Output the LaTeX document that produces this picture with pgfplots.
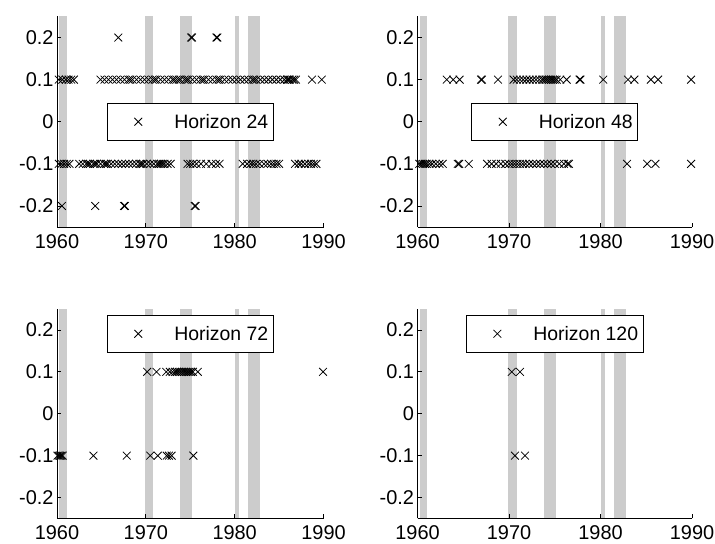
\documentclass[border=0pt]{standalone}
\usepackage{fontspec}
\setmainfont{Liberation Sans}
\usepackage{pgfplots}
\pgfplotsset{compat=1.18}
\definecolor{bandgray}{gray}{0.8}

\newcommand{\recessionbands}{%
\addplot[fill=bandgray, draw=none, forget plot] coordinates {(1960.25,-0.25) (1960.25,0.25) (1961.08,0.25) (1961.08,-0.25)} -- cycle;
\addplot[fill=bandgray, draw=none, forget plot] coordinates {(1969.92,-0.25) (1969.92,0.25) (1970.83,0.25) (1970.83,-0.25)} -- cycle;
\addplot[fill=bandgray, draw=none, forget plot] coordinates {(1973.83,-0.25) (1973.83,0.25) (1975.17,0.25) (1975.17,-0.25)} -- cycle;
\addplot[fill=bandgray, draw=none, forget plot] coordinates {(1980.0,-0.25) (1980.0,0.25) (1980.5,0.25) (1980.5,-0.25)} -- cycle;
\addplot[fill=bandgray, draw=none, forget plot] coordinates {(1981.5,-0.25) (1981.5,0.25) (1982.83,0.25) (1982.83,-0.25)} -- cycle;
}

\pgfplotsset{
  hz/.style={
    scale only axis,
    xmin=1960, xmax=1990, ymin=-0.25, ymax=0.25,
    axis x line*=bottom, axis y line*=left,
    x axis line style={-}, y axis line style={-},
    axis line style={line width=0.7bp, black},
    axis on top,
    xtick={1960,1970,1980,1990},
    ytick={-0.2,-0.1,0,0.1,0.2},
    scaled ticks=false,
    tick align=inside,
    major tick length=4bp,
    tick style={line width=0.7bp, black},
    ticklabel style={font=\fontsize{20}{23}\selectfont},
    xticklabel style={yshift=-4bp},
    /pgf/number format/assume math mode=true,
    /pgf/number format/1000 sep={},
    legend style={
      draw=black, fill=white, line width=0.8bp,
      font=\fontsize{19.5}{23}\selectfont,
      inner xsep=0pt, inner ysep=7.5bp,
      nodes={inner xsep=5bp, inner ysep=3bp},
    },
    legend image code/.code={\path[draw=none, fill=none] (0bp,0bp) -- (62bp,0bp); \draw[##1] plot coordinates {(31bp,0bp)};},
  },
  mk/.style={only marks, mark=x, mark size=5.5bp, black, mark options={line width=0.8bp}},
}

\begin{document}
\begin{tikzpicture}[x=1bp,y=1bp]
\useasboundingbox (0,0) rectangle (715,544);

% ---------------- Horizon 24 ----------------
\begin{axis}[hz, at={(57bp,317bp)}, anchor=south west, width=266.5bp, height=210.5bp,
  legend style={at={(0.5,0.5)}, anchor=center}]
\recessionbands
\addplot[mk] coordinates {
(1960.2,0.1) (1960.6,0.1) (1961.0,0.1) (1961.3,0.1) (1961.6,0.1) (1961.9,0.1)
(1964.9,0.1) (1965.35,0.1) (1965.8,0.1) (1966.25,0.1) (1966.7,0.1) (1967.15,0.1) (1967.6,0.1) (1968.05,0.1) (1968.25,0.1) (1968.5,0.1)
(1968.95,0.1) (1969.4,0.1) (1969.85,0.1) (1970.3,0.1) (1970.75,0.1) (1971.0,0.1) (1971.2,0.1) (1971.65,0.1) (1972.1,0.1) (1972.55,0.1)
(1973.0,0.1) (1973.2,0.1) (1973.45,0.1) (1973.7,0.1) (1973.9,0.1) (1974.35,0.1) (1974.6,0.1) (1974.8,0.1) (1975.25,0.1) (1975.7,0.1)
(1976.15,0.1) (1976.4,0.1) (1976.6,0.1) (1977.05,0.1) (1977.5,0.1) (1977.95,0.1) (1978.2,0.1) (1978.4,0.1) (1978.85,0.1) (1979.3,0.1)
(1979.75,0.1) (1980.2,0.1) (1980.65,0.1) (1981.1,0.1) (1981.55,0.1) (1982.0,0.1) (1982.2,0.1) (1982.45,0.1) (1982.9,0.1) (1983.35,0.1)
(1983.8,0.1) (1984.25,0.1) (1984.7,0.1) (1985.15,0.1) (1985.6,0.1) (1985.9,0.1) (1986.05,0.1) (1986.2,0.1) (1986.5,0.1) (1986.7,0.1)
(1986.9,0.1) (1988.7,0.1) (1989.8,0.1)
(1966.9,0.2) (1975.1,0.2) (1975.2,0.2) (1977.95,0.2) (1978.05,0.2)
(1960.2,-0.1) (1960.5,-0.1) (1960.8,-0.1) (1961.1,-0.1) (1961.4,-0.1) (1962.5,-0.1)
(1962.9,-0.1) (1963.3,-0.1) (1963.5,-0.1) (1963.7,-0.1) (1964.1,-0.1) (1964.3,-0.1) (1964.5,-0.1) (1964.9,-0.1) (1965.3,-0.1) (1965.5,-0.1)
(1965.7,-0.1) (1966.1,-0.1) (1966.5,-0.1) (1966.9,-0.1) (1967.3,-0.1) (1967.7,-0.1) (1968.1,-0.1) (1968.5,-0.1) (1968.9,-0.1) (1969.3,-0.1)
(1969.5,-0.1) (1969.7,-0.1) (1970.1,-0.1) (1970.5,-0.1) (1970.9,-0.1) (1971.3,-0.1) (1971.5,-0.1) (1971.7,-0.1) (1971.9,-0.1) (1972.1,-0.1)
(1972.45,-0.1) (1972.8,-0.1)
(1974.7,-0.1) (1975.0,-0.1) (1975.3,-0.1) (1975.7,-0.1) (1976.2,-0.1) (1976.8,-0.1) (1977.4,-0.1) (1977.9,-0.1) (1978.3,-0.1)
(1980.9,-0.1) (1981.4,-0.1) (1981.8,-0.1) (1982.1,-0.1) (1982.4,-0.1) (1982.8,-0.1) (1983.3,-0.1) (1983.7,-0.1) (1984.1,-0.1) (1984.4,-0.1) (1984.7,-0.1) (1985.0,-0.1)
(1986.8,-0.1) (1987.2,-0.1) (1987.5,-0.1) (1987.9,-0.1) (1988.3,-0.1) (1988.6,-0.1) (1988.9,-0.1) (1989.2,-0.1)
(1960.55,-0.2) (1964.3,-0.2) (1967.55,-0.2) (1967.65,-0.2) (1975.5,-0.2) (1975.6,-0.2)
};
\addlegendentry{Horizon 24}
\end{axis}

% ---------------- Horizon 48 ----------------
\begin{axis}[hz, at={(417.5bp,317bp)}, anchor=south west, width=274.5bp, height=210.5bp,
  legend style={at={(0.5,0.5)}, anchor=center}]
\recessionbands
\addplot[mk] coordinates {
(1963.2,0.1) (1963.9,0.1) (1964.6,0.1) (1966.95,0.1) (1967.05,0.1) (1968.8,0.1)
(1970.5,0.1) (1970.85,0.1) (1971.2,0.1) (1971.55,0.1) (1971.9,0.1) (1972.25,0.1) (1972.6,0.1) (1972.95,0.1) (1973.3,0.1) (1973.6,0.1)
(1973.8,0.1) (1974.0,0.1) (1974.2,0.1) (1974.4,0.1) (1974.6,0.1) (1974.8,0.1) (1975.0,0.1) (1975.2,0.1) (1975.6,0.1) (1976.3,0.1)
(1977.7,0.1) (1977.8,0.1) (1980.3,0.1) (1983.0,0.1) (1983.7,0.1) (1985.5,0.1) (1986.3,0.1) (1989.9,0.1)
(1960.2,-0.1) (1960.4,-0.1) (1960.6,-0.1) (1960.8,-0.1) (1961.0,-0.1) (1961.3,-0.1) (1961.6,-0.1) (1962.0,-0.1) (1962.4,-0.1) (1962.75,-0.1)
(1964.4,-0.1) (1964.55,-0.1) (1965.6,-0.1)
(1967.6,-0.1) (1968.1,-0.1) (1968.6,-0.1) (1969.1,-0.1) (1969.6,-0.1) (1970.0,-0.1) (1970.3,-0.1) (1970.6,-0.1) (1970.9,-0.1) (1971.2,-0.1)
(1971.5,-0.1) (1971.8,-0.1) (1972.2,-0.1) (1972.6,-0.1) (1973.0,-0.1) (1973.4,-0.1) (1973.8,-0.1) (1974.2,-0.1) (1974.6,-0.1) (1975.0,-0.1)
(1975.5,-0.1) (1976.0,-0.1) (1976.4,-0.1) (1976.55,-0.1)
(1982.9,-0.1) (1985.1,-0.1) (1986.0,-0.1) (1989.9,-0.1)
};
\addlegendentry{Horizon 48}
\end{axis}

% ---------------- Horizon 72 ----------------
\begin{axis}[hz, at={(57bp,25.5bp)}, anchor=south west, width=266.5bp, height=209.5bp,
  legend style={at={(0.5,0.971)}, anchor=north}]
\recessionbands
\addplot[mk] coordinates {
(1970.15,0.1) (1971.2,0.1) (1972.3,0.1) (1972.7,0.1) (1973.0,0.1) (1973.3,0.1) (1973.5,0.1) (1973.7,0.1) (1973.9,0.1) (1974.1,0.1)
(1974.3,0.1) (1974.5,0.1) (1974.7,0.1) (1974.9,0.1) (1975.1,0.1) (1975.3,0.1) (1975.85,0.1) (1989.95,0.1)
(1960.05,-0.1) (1960.2,-0.1) (1960.35,-0.1) (1960.5,-0.1) (1960.65,-0.1)
(1964.1,-0.1) (1967.85,-0.1) (1970.5,-0.1) (1971.35,-0.1) (1972.35,-0.1) (1972.6,-0.1) (1972.9,-0.1) (1975.35,-0.1)
};
\addlegendentry{Horizon 72}
\end{axis}

% ---------------- Horizon 120 ----------------
\begin{axis}[hz, at={(417.5bp,25.5bp)}, anchor=south west, width=274.5bp, height=209.5bp,
  legend style={at={(0.5,0.971)}, anchor=north}]
\recessionbands
\addplot[mk] coordinates {
(1970.3,0.1) (1971.2,0.1)
(1970.65,-0.1) (1971.75,-0.1)
};
\addlegendentry{Horizon 120}
\end{axis}
\end{tikzpicture}
\end{document}
